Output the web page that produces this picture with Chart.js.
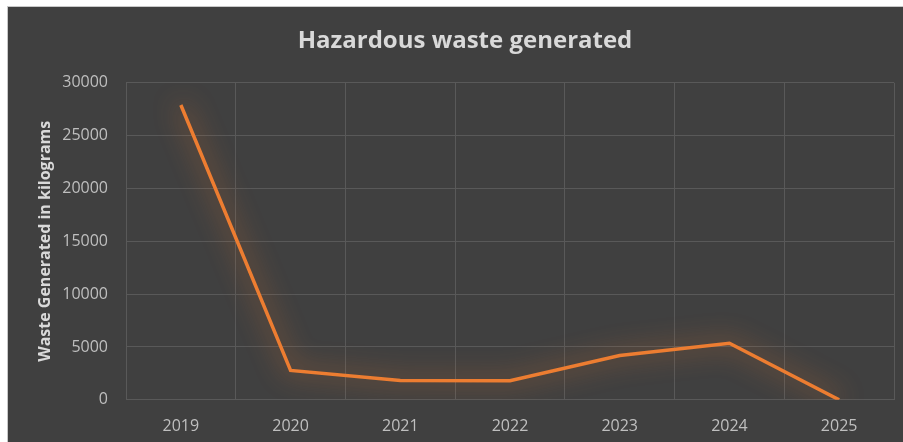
<!DOCTYPE html>
<html>
<head>
<meta charset="utf-8">
<script src="https://cdn.jsdelivr.net/npm/chart.js@4.4.1/dist/chart.umd.min.js"></script>
<style>
  html, body { margin: 0; padding: 0; background: #ffffff; overflow: hidden; }
  #wrap {
    position: absolute; left: 7px; top: 6px;
    width: 895px; height: 452px;
    background: #404040;
    border-top: 1px solid #c8c8c8;
    border-left: 1px solid #c8c8c8;
  }
  canvas { display: block; }
</style>
</head>
<body>
<div id="wrap"><canvas id="wasteChart" width="895" height="452"></canvas></div>
<script>
const years = ['2019', '2020', '2021', '2022', '2023', '2024', '2025'];
const wasteKg = [27900, 2780, 1830, 1800, 4200, 5350, 0];
const yTicks = [0, 5000, 10000, 15000, 20000, 25000, 30000];

const chartTitle = 'Hazardous waste generated';
const yAxisTitle = 'Waste Generated in kilograms';

const chart = document.getElementById('wasteChart');

// soft orange glow behind the line, like the Excel original
const glowPlugin = {
    id: 'glow',
    beforeDatasetDraw(c) {
        c.ctx.save();
        c.ctx.shadowColor = 'rgba(237, 125, 49, 0.9)';
        c.ctx.shadowBlur = 26;
    },
    afterDatasetDraw(c) {
        c.ctx.restore();
    }
};

new Chart(chart, {
    type: 'line',
    data: {
        labels: years,
        datasets: [{
            label: 'Waste',
            data: wasteKg,
            borderColor: '#ED7D31',
            borderWidth: 3.5,
            pointRadius: 0,
            tension: 0,
            fill: false,
        }],
    },
    options: {
        responsive: false,
        animation: false,
        layout: { padding: { top: 20, right: 9, bottom: 6, left: 28 } },
        plugins: {
            legend: { display: false },
            tooltip: { enabled: false },
            title: {
                display: true,
                text: chartTitle,
                color: '#d9d9d9',
                font: { family: 'Open Sans', size: 24, weight: 'bold' },
                padding: { top: 0, bottom: 27 },
            },
        },
        scales: {
            x: {
                offset: true,
                grid: { offset: true, color: '#595959', lineWidth: 1, drawTicks: false },
                border: { display: false },
                ticks: { color: '#bfbfbf', font: { family: 'Open Sans', size: 16 }, padding: 17 },
            },
            y: {
                min: 0,
                max: 30000,
                afterBuildTicks(scale) {
                    scale.ticks = yTicks.map(v => ({ value: v }));
                },
                afterFit(scale) {
                    scale.width = 90;
                },
                grid: { color: '#595959', lineWidth: 1, drawTicks: false },
                border: { display: false },
                ticks: {
                    color: '#bfbfbf',
                    font: { family: 'Open Sans', size: 16 },
                    padding: 18,
                    callback: (v) => String(v),
                },
                title: {
                    display: true,
                    text: yAxisTitle,
                    color: '#d9d9d9',
                    font: { family: 'Open Sans', size: 16, weight: 'bold' },
                    padding: { top: 0, bottom: 7 },
                },
            },
        },
    },
    plugins: [glowPlugin],
});
</script>
</body>
</html>
